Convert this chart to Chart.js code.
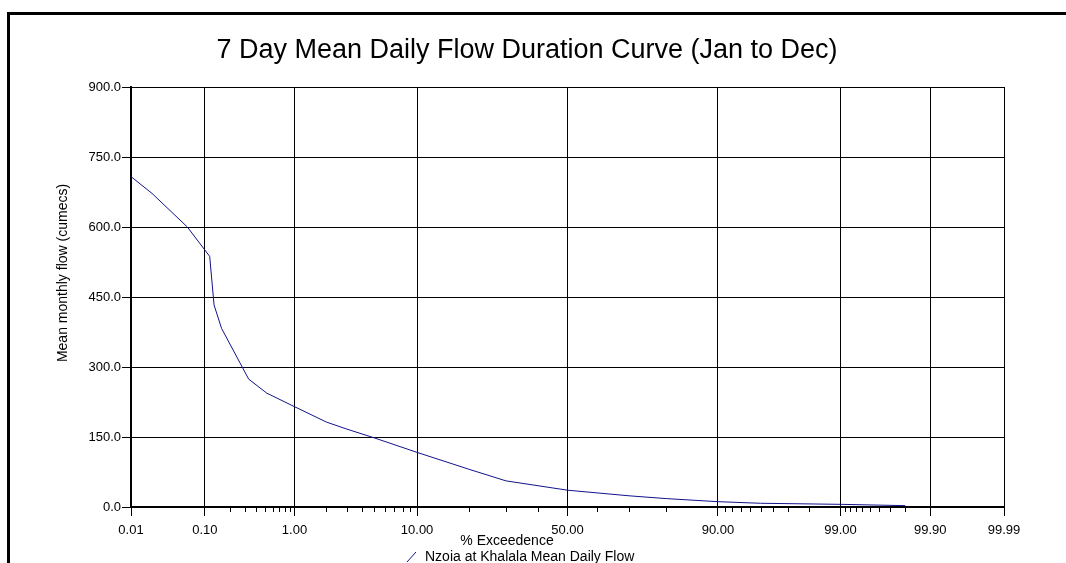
<!DOCTYPE html>
<html>
<head>
<meta charset="utf-8">
<title>7 Day Mean Daily Flow Duration Curve</title>
<script src="https://cdn.jsdelivr.net/npm/chart.js@4.4.1/dist/chart.umd.min.js"></script>
<style>
  html, body { margin: 0; padding: 0; background: #fff; overflow: hidden; }
  #frame {
    position: absolute; left: 7px; top: 12px; width: 1100px; height: 600px;
    border-left: 3px solid #000; border-top: 3px solid #000;
  }
  #flowChart { position: absolute; left: 0; top: 0; }
</style>
</head>
<body>
<div id="frame"></div>
<canvas id="flowChart" width="1066" height="563"></canvas>
<script>
// flow duration data: % of time exceeded vs 7 day mean flow
const exceedPct = [0.01, 0.02, 0.06, 0.115, 0.13, 0.16, 0.33, 0.52, 1, 2, 3, 5, 10, 20, 30, 50, 70, 80, 90, 95, 99, 99.8];
const flowCumecs = [708, 672, 600, 537, 433, 383, 274, 244, 215, 182, 167, 148, 117, 81, 56, 36, 24, 18, 11.4, 8, 5.7, 2.9];

// probability axis ticks (percent)
const majorTickPct = [0.01, 0.1, 1, 10, 50, 90, 99, 99.9, 99.99];
const majorTickLabels = ["0.01", "0.10", "1.00", "10.00", "50.00", "90.00", "99.00", "99.90", "99.99"];
const minorTickPct = [
    0.2, 0.3, 0.4, 0.5, 0.6, 0.7, 0.8, 0.9,
    2, 3, 4, 5, 6, 7, 8, 9,
    20, 30, 40,
    60, 70, 80,
    91, 92, 93, 94, 95, 96, 97, 98,
    99.1, 99.2, 99.3, 99.4, 99.5, 99.6, 99.7, 99.8
];
const flowTicks = [0, 150, 300, 450, 600, 750, 900];

const chartTitle = "7 Day Mean Daily Flow Duration Curve (Jan to Dec)";
const xAxisTitle = "% Exceedence";
const yAxisTitle = "Mean monthly flow (cumecs)";
const seriesName = "Nzoia at Khalala Mean Daily Flow";
const lineColor = "#12128c";

// inverse standard normal CDF (Acklam) -> probability paper positions
function probit(p) {
    const a = [-3.969683028665376e+01, 2.209460984245205e+02, -2.759285104469687e+02, 1.383577518672690e+02, -3.066479806614716e+01, 2.506628277459239e+00];
    const b = [-5.447609879822406e+01, 1.615858368580409e+02, -1.556989798598866e+02, 6.680131188771972e+01, -1.328068155288572e+01];
    const c = [-7.784894002430293e-03, -3.223964580411365e-01, -2.400758277161838e+00, -2.549732539343734e+00, 4.374664141464968e+00, 2.938163982698783e+00];
    const d = [7.784695709041462e-03, 3.224671290700398e-01, 2.445134137142996e+00, 3.754408661907416e+00];
    const pLow = 0.02425;
    let q, r;
    if (p < pLow) {
        q = Math.sqrt(-2 * Math.log(p));
        return (((((c[0]*q + c[1])*q + c[2])*q + c[3])*q + c[4])*q + c[5]) /
               ((((d[0]*q + d[1])*q + d[2])*q + d[3])*q + 1);
    }
    if (p <= 1 - pLow) {
        q = p - 0.5; r = q * q;
        return (((((a[0]*r + a[1])*r + a[2])*r + a[3])*r + a[4])*r + a[5]) * q /
               (((((b[0]*r + b[1])*r + b[2])*r + b[3])*r + b[4])*r + 1);
    }
    q = Math.sqrt(-2 * Math.log(1 - p));
    return -(((((c[0]*q + c[1])*q + c[2])*q + c[3])*q + c[4])*q + c[5]) /
            ((((d[0]*q + d[1])*q + d[2])*q + d[3])*q + 1);
}
const zOf = (pct) => probit(pct / 100);

const fontFamily = "Arial, 'Liberation Sans', sans-serif";
const tickFont = { family: fontFamily, size: 13 };

/** ===== minor ticks, axis captions and legend ===== */
const probPaperExtras = {
    id: "probPaperExtras",
    afterDraw(chart) {
        const { ctx, scales: { x } } = chart;
        ctx.save();
        ctx.strokeStyle = "#000";
        ctx.lineWidth = 1;
        minorTickPct.forEach((p) => {
            const px = Math.round(x.getPixelForValue(zOf(p))) + 0.5;
            ctx.beginPath();
            ctx.moveTo(px, x.top);
            ctx.lineTo(px, x.top + 5);
            ctx.stroke();
        });

        ctx.fillStyle = "#000";
        ctx.font = "14px " + fontFamily;
        ctx.textBaseline = "middle";
        ctx.textAlign = "center";
        ctx.fillText(xAxisTitle, 507, 541);

        // y caption, rotated
        ctx.save();
        ctx.translate(63, 273);
        ctx.rotate(-Math.PI / 2);
        ctx.fillText(yAxisTitle, 0, 0);
        ctx.restore();

        // legend entry
        ctx.strokeStyle = lineColor;
        ctx.beginPath();
        ctx.moveTo(407, 562);
        ctx.lineTo(416, 552);
        ctx.stroke();
        ctx.textAlign = "left";
        ctx.fillText(seriesName, 425, 557);
        ctx.restore();
    },
};

const ctx = document.getElementById("flowChart").getContext("2d");

new Chart(ctx, {
    type: "line",
    data: {
        datasets: [
            {
                label: seriesName,
                data: exceedPct.map((p, i) => ({ x: zOf(p), y: flowCumecs[i] })),
                borderColor: lineColor,
                borderWidth: 1,
                pointRadius: 0,
                tension: 0,
                fill: false,
            },
        ],
    },
    options: {
        responsive: false,
        animation: false,
        devicePixelRatio: 1,
        layout: { padding: { left: 50, right: 62, top: 0, bottom: 0 } },
        plugins: {
            legend: { display: false },
            tooltip: { enabled: false },
            title: {
                display: true,
                text: chartTitle,
                color: "#000",
                font: { family: fontFamily, size: 27, weight: "normal" },
                padding: { top: 34.5, bottom: 20.1 },
            },
        },
        scales: {
            x: {
                type: "linear",
                min: zOf(majorTickPct[0]),
                max: zOf(majorTickPct[majorTickPct.length - 1]),
                afterBuildTicks: (scale) => {
                    scale.ticks = majorTickPct.map((p) => ({ value: zOf(p) }));
                },
                afterFit: (scale) => { scale.height = 56; },
                ticks: {
                    autoSkip: false,
                    maxRotation: 0,
                    padding: 7,
                    color: "#000",
                    font: tickFont,
                    callback: (value, index) => majorTickLabels[index],
                },
                grid: { color: "#000", lineWidth: 1, tickLength: 9 },
                border: { display: true, color: "#000", width: 2 },
            },
            y: {
                min: 0,
                max: 900,
                afterBuildTicks: (scale) => {
                    scale.ticks = flowTicks.map((v) => ({ value: v }));
                },
                afterFit: (scale) => { scale.width = 81; },
                ticks: {
                    padding: 1,
                    color: "#000",
                    font: tickFont,
                    callback: (value) => value.toFixed(1),
                },
                grid: { color: "#000", lineWidth: 1, tickLength: 9 },
                border: { display: true, color: "#000", width: 2 },
            },
        },
    },
    plugins: [probPaperExtras],
});
</script>
</body>
</html>
